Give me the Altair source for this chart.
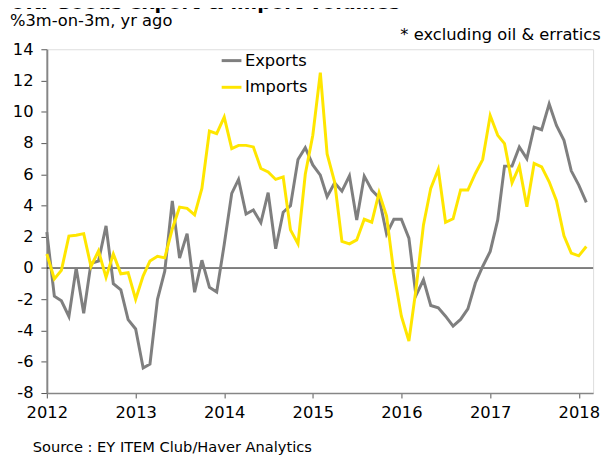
import altair as alt
import pandas as pd

# ---- data (monthly, Jan 2012 - Feb 2018) ----
start_month = "2012-01-01"
exports = [2.3, -1.8, -2.1, -3.1, 0.0, -2.9, 0.3, 0.45, 2.7, -1.0, -1.4, -3.3,
           -3.9, -6.4, -6.15, -2.0, -0.2, 4.3, 0.64, 2.2, -1.55, 0.5, -1.23, -1.53,
           1.5, 4.78, 5.67, 3.46, 3.71, 2.9, 4.82, 1.23, 3.57, 3.99, 6.94, 7.7,
           6.6, 5.94, 4.56, 5.45, 4.92, 5.9, 3.08, 5.88, 4.99, 4.5, 2.18, 3.12,
           3.12, 1.91, -1.76, -0.75, -2.4, -2.55, -3.08, -3.72, -3.29, -2.61, -0.96, 0.1,
           1.06, 3.08, 6.52, 6.52, 7.75, 7.0, 9.02, 8.85, 10.5, 9.13, 8.17, 6.22,
           5.31, 4.2]
imports = [0.9, -0.7, -0.15, 2.05, 2.1, 2.2, 0.1, 1.1, -0.6, 0.9, -0.37, -0.3,
           -2.0, -0.5, 0.45, 0.75, 0.65, 2.5, 3.9, 3.82, 3.4, 5.1, 8.77, 8.6,
           9.66, 7.64, 7.85, 7.85, 7.75, 6.37, 6.15, 5.67, 5.83, 2.44, 1.55, 6.0,
           8.5, 12.5, 7.3, 5.5, 1.7, 1.55, 1.8, 3.12, 2.93, 4.82, 3.33, -0.32,
           -3.08, -4.67, -1.38, 2.76, 5.1, 6.32, 2.93, 3.15, 5.0, 4.99, 6.05, 6.94,
           9.76, 8.49, 7.96, 5.45, 6.52, 3.92, 6.69, 6.47, 5.52, 4.31, 2.06, 0.96,
           0.78, 1.38]
series_names = ["Exports", "Imports"]
series_colors = ["#7f7f7f", "#ffe600"]
year_ticks = [2012, 2013, 2014, 2015, 2016, 2017, 2018]
y_ticks = [-8, -6, -4, -2, 0, 2, 4, 6, 8, 10, 12, 14]

title_text = "UK: Goods export & import volumes"
unit_text = "%3m-on-3m, yr ago"
note_text = "* excluding oil & erratics"
source_text = "Source : EY ITEM Club/Haver Analytics"

n = len(exports)
months = pd.date_range(start_month, periods=n, freq="MS")
df = pd.DataFrame({
    "date": list(months) * 2,
    "series": [series_names[0]] * n + [series_names[1]] * n,
    "value": exports + imports,
})

FONT = "DejaVu Sans"
FS = 16.5
W, H = 553, 348

x_enc = alt.X(
    "date:T",
    scale=alt.Scale(domain=[alt.DateTime(year=2012, month=1, date=1),
                            alt.DateTime(year=2018, month=3, date=1)]),
    axis=alt.Axis(
        values=[alt.DateTime(year=y, month=1, date=1) for y in year_ticks],
        format="%Y", title=None, grid=False, labelFlush=False, labelOverlap=False,
        tickSize=5, labelPadding=7, domainColor="#868686", domainWidth=1.5,
        tickColor="#555555", labelFont=FONT, labelFontSize=FS, labelColor="black",
    ),
)
y_scale = alt.Scale(domain=[-8, 14], nice=False, zero=False)
y_axis = alt.Axis(
    values=y_ticks, title=None, grid=False, labelExpr="'' + datum.value",
    tickSize=6, labelPadding=8, domainColor="#868686", domainWidth=2,
    tickColor="#555555", labelFont=FONT, labelFontSize=FS, labelColor="black",
    labelFlush=False, labelOverlap=False,
)

lines = alt.Chart(df).mark_line(strokeWidth=3).encode(
    x=x_enc,
    y=alt.Y("value:Q", scale=y_scale, axis=y_axis),
    color=alt.Color(
        "series:N",
        scale=alt.Scale(domain=series_names, range=series_colors),
        legend=alt.Legend(
            title=None, orient="none", legendX=175.5, legendY=0,
            symbolType="stroke", symbolSize=400, symbolStrokeWidth=3,
            labelFont=FONT, labelFontSize=FS, labelColor="black",
            labelOffset=2, rowPadding=7, padding=0,
        ),
    ),
)

zero = alt.Chart(alt.Data(values=[{"zero": 0}])).mark_rule(
    color="black", strokeWidth=1
).encode(y=alt.Y("zero:Q", scale=y_scale, axis=y_axis))

one = alt.Data(values=[{}])
title = alt.Chart(one).mark_text(
    font=FONT, fontSize=19.5, fontWeight="bold", align="left", baseline="alphabetic",
    color="black", text=title_text,
).encode(x=alt.value(-37.3), y=alt.value(-41))
unit = alt.Chart(one).mark_text(
    font=FONT, fontSize=FS, align="left", baseline="middle", color="black",
    text=unit_text,
).encode(x=alt.value(-37.3), y=alt.value(-28.5))
note = alt.Chart(one).mark_text(
    font=FONT, fontSize=FS, align="right", baseline="middle", color="black",
    text=note_text,
).encode(x=alt.value(560.7), y=alt.value(-14.5))
source = alt.Chart(one).mark_text(
    font=FONT, fontSize=14.8, align="left", baseline="middle", color="black",
    text=source_text,
).encode(x=alt.value(-14.3), y=alt.value(404))

chart = alt.layer(zero, lines, title, unit, note, source).properties(
    width=W, height=H,
    autosize=alt.AutoSizeParams(type="none"),
    padding={"left": 39.3, "top": 39, "right": 8, "bottom": 63},
).configure_view(stroke=None).configure(background="white")

chart.save("out.html", embed_options={"renderer": "svg", "actions": False})
